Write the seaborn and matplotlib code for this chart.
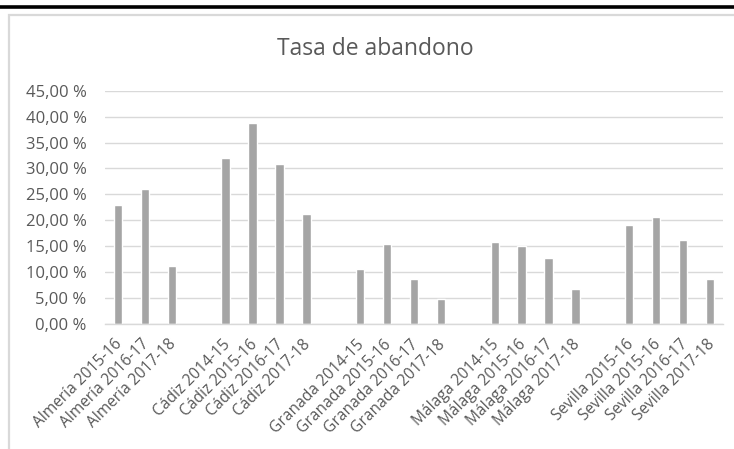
import matplotlib
matplotlib.use("Agg")
import matplotlib.pyplot as plt
from matplotlib.lines import Line2D
from matplotlib.patches import Rectangle
from matplotlib.ticker import FuncFormatter
from matplotlib.transforms import ScaledTranslation
import numpy as np
import pandas as pd
import seaborn as sns

# Dropout rate by province and academic year (percent); "" marks a spacer slot
labels = [
    "Almería 2015-16", "Almería 2016-17", "Almería 2017-18", "",
    "Cádiz 2014-15", "Cádiz 2015-16", "Cádiz 2016-17", "Cádiz 2017-18", "",
    "Granada 2014-15", "Granada 2015-16", "Granada 2016-17", "Granada 2017-18", "",
    "Málaga 2014-15", "Málaga 2015-16", "Málaga 2016-17", "Málaga 2017-18", "",
    "Sevilla 2015-16", "Sevilla 2015-16", "Sevilla 2016-17", "Sevilla 2017-18",
]
rates = [
    23.0, 26.1, 11.1, np.nan,
    32.0, 38.8, 30.8, 21.3, np.nan,
    10.7, 15.4, 8.7, 4.9, np.nan,
    15.8, 15.1, 12.7, 6.8, np.nan,
    19.0, 20.6, 16.2, 8.7,
]
y_ticks = [0, 5, 10, 15, 20, 25, 30, 35, 40, 45]

slots = list(range(len(labels)))
df = pd.DataFrame({"slot": slots, "rate": rates}).dropna()

sns.set_theme(style="white")
plt.rcParams["font.family"] = ["Open Sans", "DejaVu Sans"]

TEXT = "#595959"
GRID = "#D9D9D9"
BAR = "#A5A5A5"

fig = plt.figure(figsize=(7.34, 4.49), dpi=100)
ax = fig.add_axes([0.1425, 0.2784, 0.8430, 0.5196])

sns.barplot(data=df, x="slot", y="rate", order=slots, color=BAR,
            width=0.31, saturation=1, ax=ax)

ax.set_ylim(0, 45)
ax.set_xlim(-0.5, len(labels) - 0.5)
ax.set_yticks(y_ticks)
ax.yaxis.set_major_formatter(FuncFormatter(lambda v, p: f"{v:.2f}".replace(".", ",") + " %"))
ax.grid(axis="y", color=GRID, linewidth=1.0)
ax.set_axisbelow(True)
for s in ["top", "right", "left"]:
    ax.spines[s].set_visible(False)
ax.spines["bottom"].set_color(GRID)
ax.spines["bottom"].set_linewidth(1.0)

ax.set_xticks(slots)
ax.set_xticklabels(labels, rotation=45, ha="right", va="center",
                   rotation_mode="anchor")
ax.tick_params(axis="x", length=0, pad=13, labelsize=11.2, labelcolor=TEXT)
ax.tick_params(axis="y", length=0, pad=13, labelsize=12, labelcolor=TEXT)
shift = ScaledTranslation(2 / 100, 0, fig.dpi_scale_trans)
for lbl in ax.get_xticklabels():
    lbl.set_transform(lbl.get_transform() + shift)
ax.set_xlabel("")
ax.set_ylabel("")

fig.text(0.511, 1 - 55 / 449, "Tasa de abandono", ha="center", va="baseline",
         fontsize=16.5, color=TEXT)

# Chart frame and the heavy rule above it
fig.add_artist(Line2D([0, 1], [1 - 6.5 / 449] * 2, color="black", linewidth=2.6,
                      transform=fig.transFigure))
fig.add_artist(Rectangle((9 / 734, -0.1), 1.0, 1 - 15 / 449 + 0.1, fill=False,
                         edgecolor=GRID, linewidth=1.6, transform=fig.transFigure))

fig.savefig("out.png", dpi=100, facecolor="white")
